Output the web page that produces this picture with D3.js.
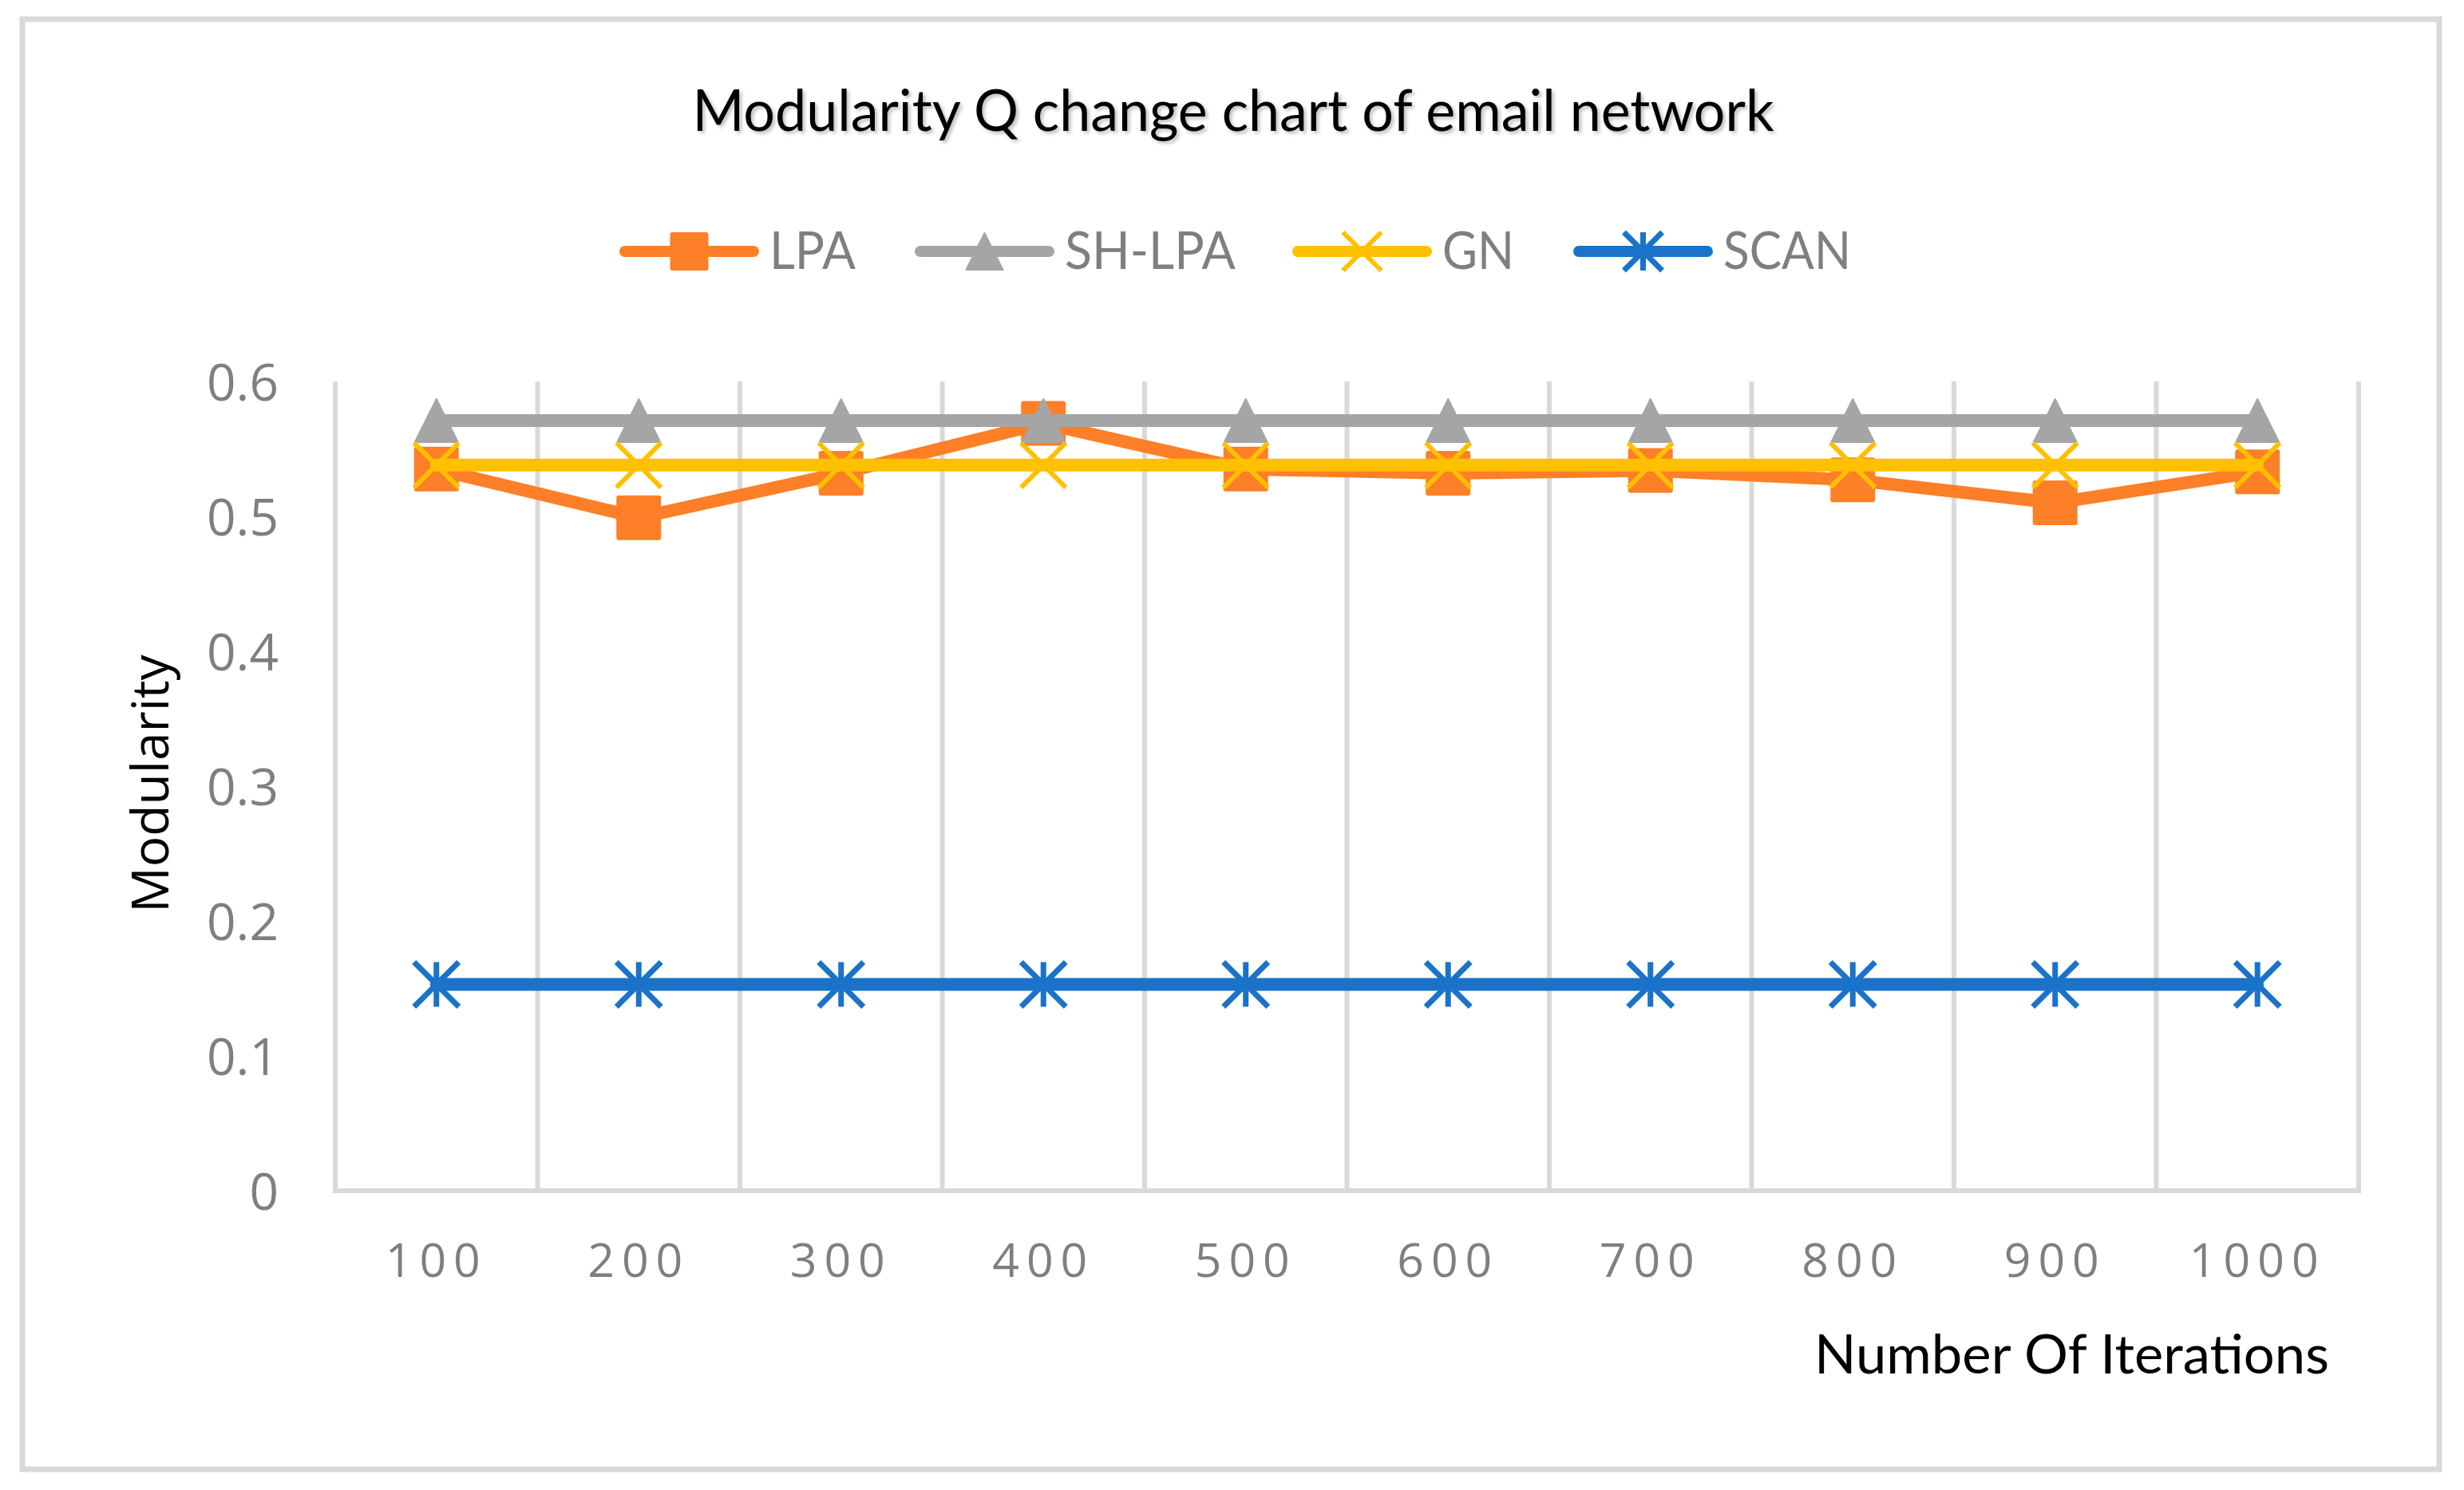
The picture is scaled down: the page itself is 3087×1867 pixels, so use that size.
<!DOCTYPE html>
<html>
<head>
<meta charset="utf-8">
<script src="https://cdn.jsdelivr.net/npm/d3@7.9.0/dist/d3.min.js"></script>
<style>
  html, body { margin: 0; padding: 0; background: #fff; }
</style>
</head>
<body>
<div id="chart"></div>
<script>
// data
const iterations = ["100", "200", "300", "400", "500", "600", "700", "800", "900", "1000"];
const lpa   = [0.535, 0.499, 0.532, 0.569, 0.535, 0.532, 0.534, 0.527, 0.510, 0.533];
const shlpa = [0.571, 0.571, 0.571, 0.571, 0.571, 0.571, 0.571, 0.571, 0.571, 0.571];
const gn    = [0.538, 0.538, 0.538, 0.538, 0.538, 0.538, 0.538, 0.538, 0.538, 0.538];
const scan  = [0.153, 0.153, 0.153, 0.153, 0.153, 0.153, 0.153, 0.153, 0.153, 0.153];
const yTicks = [0, 0.1, 0.2, 0.3, 0.4, 0.5, 0.6];
const seriesNames = ["LPA", "SH-LPA", "GN", "SCAN"];

const series = [
    { name: seriesNames[0], values: lpa,   color: "#fd7f27", marker: "square" },
    { name: seriesNames[1], values: shlpa, color: "#a5a5a5", marker: "triangle" },
    { name: seriesNames[2], values: gn,    color: "#ffc000", marker: "x" },
    { name: seriesNames[3], values: scan,  color: "#1a73c8", marker: "star" }
];

const width = 3087, height = 1867;
const plotLeft = 420, plotRight = 2955, plotTop = 478, plotBottom = 1492;

const svg = d3.select("#chart").append("svg")
    .attr("width", width)
    .attr("height", height);

const defs = svg.append("defs");
defs.append("filter").attr("id", "shadow")
    .attr("x", "-5%").attr("y", "-20%").attr("width", "110%").attr("height", "140%")
    .append("feDropShadow")
    .attr("dx", 3).attr("dy", 3).attr("stdDeviation", 2)
    .attr("flood-color", "#000").attr("flood-opacity", 0.25);

// outer frame
svg.append("rect")
    .attr("x", 28).attr("y", 24)
    .attr("width", 3028).attr("height", 1817)
    .attr("fill", "#fff")
    .attr("stroke", "#d9d9d9")
    .attr("stroke-width", 7);

const x = d3.scaleBand()
    .domain(iterations)
    .range([plotLeft, plotRight])
    .padding(0);

const y = d3.scaleLinear()
    .domain([0, 0.6])
    .range([plotBottom, plotTop]);

const cx = d => x(d) + x.bandwidth() / 2;

// vertical gridlines on category boundaries
const bounds = iterations.map(d => x(d)).concat([x(iterations[iterations.length - 1]) + x.bandwidth()]);
svg.append("g").selectAll("line")
    .data(bounds)
    .enter()
    .append("line")
    .attr("x1", d => d).attr("x2", d => d)
    .attr("y1", y(0.6)).attr("y2", y(0))
    .attr("stroke", "#d9d9d9")
    .attr("stroke-width", 6);

// bottom axis line
svg.append("line")
    .attr("x1", plotLeft - 3).attr("x2", plotRight + 3)
    .attr("y1", y(0)).attr("y2", y(0))
    .attr("stroke", "#d9d9d9")
    .attr("stroke-width", 6);

// y axis labels
const yAxis = svg.append("g")
    .attr("transform", "translate(" + (plotLeft - 71) + ",0)")
    .call(d3.axisLeft(y).tickValues(yTicks).tickSize(0).tickPadding(0)
        .tickFormat(d => d === 0 ? "0" : d.toFixed(1)));
yAxis.select(".domain").remove();
yAxis.selectAll("text")
    .attr("font-family", "Open Sans")
    .attr("font-size", 64)
    .attr("fill", "#7f7f7f")
    .attr("dy", 23)
    .attr("x", 0)
    .attr("text-anchor", "end");

// x axis labels
const xAxis = svg.append("g")
    .attr("transform", "translate(0," + 1600 + ")")
    .call(d3.axisBottom(x).tickSize(0).tickPadding(0));
xAxis.select(".domain").remove();
xAxis.selectAll("text")
    .attr("font-family", "Open Sans")
    .attr("font-size", 59)
    .attr("fill", "#7f7f7f")
    .attr("letter-spacing", 9)
    .attr("dy", 0)
    .attr("y", 0);

function marker(g, type, s, color) {
    const h = s / 2;
    if (type === "square") {
        g.append("rect")
            .attr("x", -h).attr("y", -h)
            .attr("width", s).attr("height", s)
            .attr("rx", 3)
            .attr("fill", color);
    } else if (type === "triangle") {
        g.append("path")
            .attr("d", "M0," + (-h + 1) + "L" + (h - 1) + "," + (h - 1) + "L" + (-h + 1) + "," + (h - 1) + "Z")
            .attr("fill", color)
            .attr("stroke", color)
            .attr("stroke-width", 2)
            .attr("stroke-linejoin", "round");
    } else if (type === "x") {
        g.append("path")
            .attr("d", "M" + (-h) + "," + (-h) + "L" + h + "," + h + "M" + h + "," + (-h) + "L" + (-h) + "," + h)
            .attr("stroke", color)
            .attr("stroke-width", 6)
            .attr("fill", "none");
    } else if (type === "star") {
        g.append("path")
            .attr("d", "M" + (-h) + "," + (-h) + "L" + h + "," + h + "M" + h + "," + (-h) + "L" + (-h) + "," + h +
                "M0," + (-h) + "L0," + h)
            .attr("stroke", color)
            .attr("stroke-width", 7)
            .attr("fill", "none");
    }
}

const line = d3.line()
    .x((d, i) => cx(iterations[i]))
    .y(d => y(d));

series.forEach(s => {
    svg.append("path")
        .datum(s.values)
        .attr("d", line)
        .attr("fill", "none")
        .attr("stroke", s.color)
        .attr("stroke-width", 16)
        .attr("stroke-linecap", "round")
        .attr("stroke-linejoin", "round");

    s.values.forEach((v, i) => {
        const g = svg.append("g")
            .attr("transform", "translate(" + cx(iterations[i]) + "," + y(v) + ")");
        marker(g, s.marker, 56, s.color);
    });
});

// title
svg.append("text")
    .attr("x", 1545).attr("y", 164)
    .attr("text-anchor", "middle")
    .attr("font-family", "Lato")
    .attr("font-size", 71)
    .attr("fill", "#000")
    .attr("textLength", 1355)
    .attr("lengthAdjust", "spacingAndGlyphs")
    .attr("filter", "url(#shadow)")
    .text("Modularity Q change chart of email network");

// legend
const legendStart = [776, 1146, 1619, 1971];
const legendTextW = [108, 214, 90, 160];
series.forEach((s, i) => {
    const g = svg.append("g").attr("transform", "translate(" + legendStart[i] + ",315)");
    g.append("line")
        .attr("x1", 7).attr("x2", 168)
        .attr("stroke", s.color)
        .attr("stroke-width", 14)
        .attr("stroke-linecap", "round");
    const m = g.append("g").attr("transform", "translate(87.5,0)");
    marker(m, s.marker, 48, s.color);
    g.append("text")
        .attr("x", 188).attr("y", 22)
        .attr("font-family", "Lato")
        .attr("font-size", 66)
        .attr("fill", "#7f7f7f")
        .attr("textLength", legendTextW[i])
        .attr("lengthAdjust", "spacingAndGlyphs")
        .text(s.name);
});

// axis titles
svg.append("text")
    .attr("transform", "translate(211,982) rotate(-90)")
    .attr("text-anchor", "middle")
    .attr("font-family", "Open Sans")
    .attr("font-size", 64)
    .attr("fill", "#000")
    .text("Modularity");

svg.append("text")
    .attr("x", 2918).attr("y", 1721)
    .attr("text-anchor", "end")
    .attr("font-family", "Lato")
    .attr("font-size", 67)
    .attr("fill", "#000")
    .attr("textLength", 645)
    .attr("lengthAdjust", "spacingAndGlyphs")
    .text("Number Of Iterations");
</script>
</body>
</html>
